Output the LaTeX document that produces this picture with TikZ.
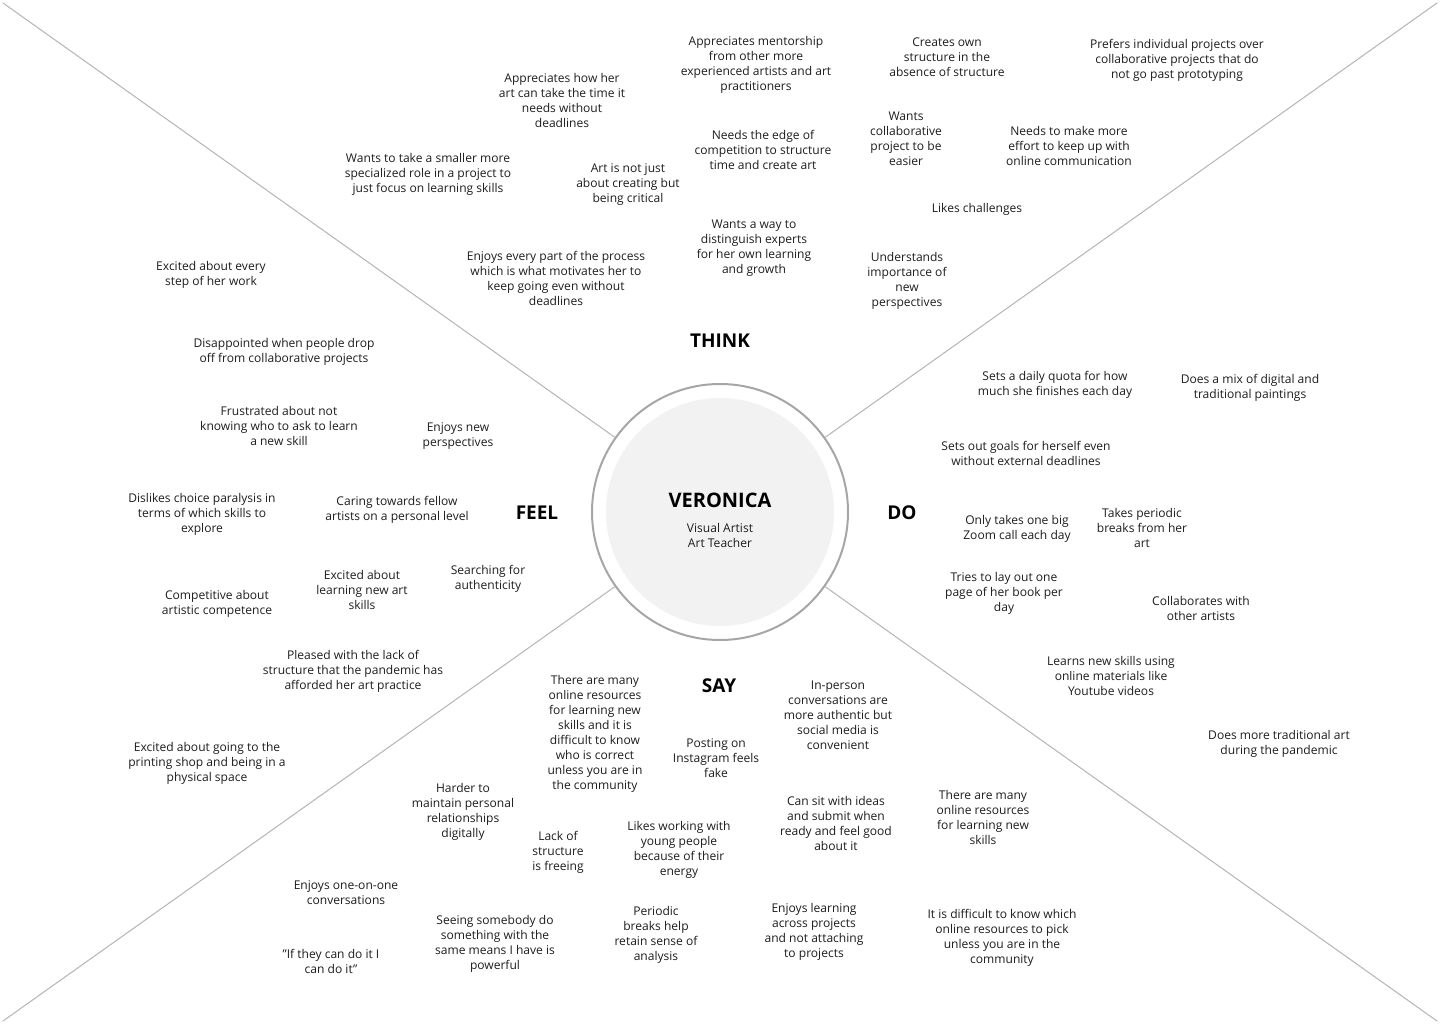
\documentclass[tikz,border=0pt]{standalone}
\usepackage{fontspec}
\setmainfont{Open Sans}
\begin{document}
\begin{tikzpicture}[x=1pt,y=-1pt,
  note/.style={align=center,inner sep=0pt,text=txt,yshift=-1pt,font=\fontsize{12.05}{15}\selectfont},
  head/.style={inner sep=0pt,text=black,yshift=-0.5pt,font=\fontsize{19}{22}\selectfont\bfseries},
  spoke/.style={draw=spokegray,line width=1pt}]
\definecolor{txt}{HTML}{1E1E1E}
\definecolor{spokegray}{HTML}{B4B4B4}
\definecolor{ringgray}{HTML}{A6A6A6}
\definecolor{innerfill}{HTML}{F2F2F2}
\useasboundingbox (0,0) rectangle (1440,1024);
\fill[white] (0,0) rectangle (1440,1024);
% center
\node[circle,fill=innerfill,minimum size=228pt,inner sep=0pt] (inner) at (720,512) {};
\node[circle,draw=ringgray,line width=2pt,minimum size=256pt,inner sep=0pt] (ring) at (720,512) {};
\node[head,font=\fontsize{20}{24}\selectfont\bfseries] (name) at (720,500) {VERONICA};
\node[note] (role) at (720,534.5) {Visual Artist\\Art Teacher};
% spokes
\coordinate (ctl) at (3,3);
\coordinate (ctr) at (1437,3);
\coordinate (cbl) at (3,1021);
\coordinate (cbr) at (1437,1021);
\draw[spoke] (ctl) -- (ring);
\draw[spoke] (ctr) -- (ring);
\draw[spoke] (cbl) -- (ring);
\draw[spoke] (cbr) -- (ring);
% headings
\node[head] (think) at (720,340) {THINK};
\node[head] (feel) at (537,512) {FEEL};
\node[head] (do) at (902,512) {DO};
\node[head] (say) at (719,685) {SAY};
% THINK
\node[note] (t1) at (756,63.5) {Appreciates mentorship\\from other more\\experienced artists and art\\practitioners};
\node[note] (t2) at (947,56) {Creates own\\structure in the\\absence of structure};
\node[note] (t3) at (1177,59) {Prefers individual projects over\\collaborative projects that do\\not go past prototyping};
\node[note] (t4) at (562,99.5) {Appreciates how her\\art can take the time it\\needs without\\deadlines};
\node[note] (t5) at (763,149) {Needs the edge of\\competition to structure\\time and create art};
\node[note] (t6) at (906,137.5) {Wants\\collaborative\\project to be\\easier};
\node[note] (t7) at (1069,145) {Needs to make more\\effort to keep up with\\online communication};
\node[note] (t8) at (428,173) {Wants to take a smaller more\\specialized role in a project to\\just focus on learning skills};
\node[note] (t9) at (628,184) {Art is not just\\about creating but\\being critical};
\node[note] (t10) at (977,208) {Likes challenges};
\node[note] (t11) at (754,247.5) {Wants a way to\\distinguish experts\\for her own learning\\and growth};
\node[note] (t12) at (556,277.5) {Enjoys every part of the process\\which is what motivates her to\\keep going even without\\deadlines};
\node[note] (t13) at (907,279.5) {Understands\\importance of\\new\\perspectives};
% FEEL
\node[note] (f1) at (211,273.5) {Excited about every\\step of her work};
\node[note] (f2) at (284,350.5) {Disappointed when people drop\\off from collaborative projects};
\node[note] (f3) at (279,425) {Frustrated about not\\knowing who to ask to learn\\a new skill};
\node[note] (f4) at (458,435.5) {Enjoys new\\perspectives};
\node[note] (f5) at (202,513) {Dislikes choice paralysis in\\terms of which skills to\\explore};
\node[note] (f6) at (397,508.5) {Caring towards fellow\\artists on a personal level};
\node[note] (f7) at (362,589) {Excited about\\learning new art\\skills};
\node[note] (f8) at (488,577.5) {Searching for\\authenticity};
\node[note] (f9) at (217,602.5) {Competitive about\\artistic competence};
\node[note] (f10) at (353,670) {Pleased with the lack of\\structure that the pandemic has\\afforded her art practice};
\node[note] (f11) at (207,762) {Excited about going to the\\printing shop and being in a\\physical space};
% DO
\node[note] (d1) at (1055,383.5) {Sets a daily quota for how\\much she finishes each day};
\node[note] (d2) at (1250,386.5) {Does a mix of digital and\\traditional paintings};
\node[note] (d3) at (1026,452.5) {Sets out goals for herself even\\without external deadlines};
\node[note] (d4) at (1017,527.5) {Only takes one big\\Zoom call each day};
\node[note] (d5) at (1142,527) {Takes periodic\\breaks from her\\art};
\node[note] (d6) at (1004,592) {Tries to lay out one\\page of her book per\\day};
\node[note] (d7) at (1201,607.5) {Collaborates with\\other artists};
\node[note] (d8) at (1111,675) {Learns new skills using\\online materials like\\Youtube videos};
\node[note] (d9) at (1279,742.5) {Does more traditional art\\during the pandemic};
% SAY
\node[note] (s1) at (595,732.5) {There are many\\online resources\\for learning new\\skills and it is\\difficult to know\\who is correct\\unless you are in\\the community};
\node[note] (s2) at (838,714) {In-person\\conversations are\\more authentic but\\social media is\\convenient};
\node[note] (s3) at (716,757) {Posting on\\Instagram feels\\fake};
\node[note] (s4) at (463,810.5) {Harder to\\maintain personal\\relationships\\digitally};
\node[note] (s5) at (836,822.5) {Can sit with ideas\\and submit when\\ready and feel good\\about it};
\node[note] (s6) at (983,816.5) {There are many\\online resources\\for learning new\\skills};
\node[note] (s7) at (558,851) {Lack of\\structure\\is freeing};
\node[note] (s8) at (679,848.5) {Likes working with\\young people\\because of their\\energy};
\node[note] (s9) at (346,891.5) {Enjoys one-on-one\\conversations};
\node[note] (s10) at (495,942.5) {Seeing somebody do\\something with the\\same means I have is\\powerful};
\node[note] (s11) at (656,933.5) {Periodic\\breaks help\\retain sense of\\analysis};
\node[note] (s12) at (814,930.5) {Enjoys learning\\across projects\\and not attaching\\to projects};
\node[note] (s13) at (1002,936.5) {It is difficult to know which\\online resources to pick\\unless you are in the\\community};
\node[note] (s14) at (331,960.5) {\char"22 If they can do it I\\can do it\char"22};
\end{tikzpicture}
\end{document}
